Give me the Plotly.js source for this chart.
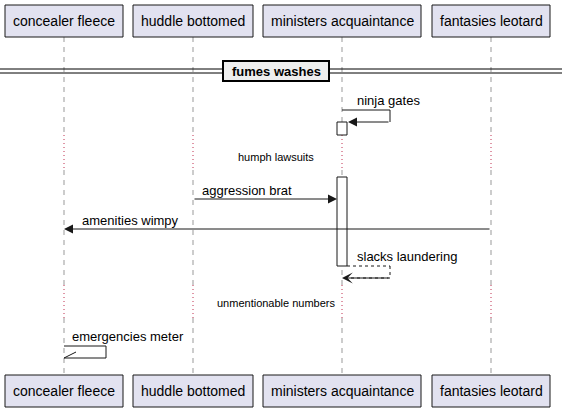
<!DOCTYPE html><html><head><script src="https://cdn.plot.ly/plotly-2.35.2.min.js"></script></head><body style="margin:0"><div id="g" style="width:562px;height:412px"></div><script>
const participants=["concealer fleece","huddle bottomed","ministers acquaintance","fantasies leotard"];
const partX=[64,193,342,491];
const partHalfW=[59,60,79,59];
const divider="fumes washes";
const msgs=[
 {t:"aggression brat",from:1,to:2,y:199,dash:false},
 {t:"amenities wimpy",from:3,to:0,y:229,dash:false}
];
const selfMsgs=[
 {t:"ninja gates",p:2,y:110,dash:false},
 {t:"slacks laundering",p:2,y:266,dash:false,ret:true},
 {t:"emergencies meter",p:0,y:346,dash:false,half:true}
];
const delays=[{t:"humph lawsuits",y0:135,y1:170,ty:157},{t:"unmentionable numbers",y0:285,y1:318,ty:303}];
const activations=[[122,135],[177,266]];
const shapes=[],ann=[];
const F={family:"Liberation Sans, Arial, sans-serif",size:13,color:"#000"};
partX.forEach(x=>{
 const segs=[[37,135],[170,285],[318,375]];
 segs.forEach(s=>shapes.push({type:"line",x0:x,x1:x,y0:s[0],y1:s[1],line:{color:"#999",width:1,dash:"5px,5px"}}));
 delays.forEach(d=>shapes.push({type:"line",x0:x,x1:x,y0:d.y0,y1:d.y1,line:{color:"#c03050",width:1,dash:"1px,3px"}}));
});
participants.forEach((p,i)=>{[[5,37],[375,407]].forEach(r=>{
 shapes.push({type:"rect",x0:partX[i]-partHalfW[i],x1:partX[i]+partHalfW[i],y0:r[0],y1:r[1],fillcolor:"#e2e2f0",line:{color:"#181818",width:1}});
 ann.push({x:partX[i],y:(r[0]+r[1])/2,text:p,showarrow:false,font:{...F,size:14}});
});});
[69,73].forEach(y=>shapes.push({type:"line",x0:0,x1:562,y0:y,y1:y,line:{color:"#000",width:1}}));
shapes.push({type:"rect",x0:223,x1:329,y0:61,y1:81,fillcolor:"#eeeeee",line:{color:"#000",width:2}});
ann.push({x:276,y:71,text:"<b>"+divider+"</b>",showarrow:false,font:F});
activations.forEach(a=>shapes.push({type:"rect",x0:337,x1:347,y0:a[0],y1:a[1],fillcolor:"#fff",line:{color:"#181818",width:1}}));
delays.forEach(d=>ann.push({x:276,y:d.ty,text:d.t,showarrow:false,font:{...F,size:11}}));
msgs.forEach(m=>{
 const x0=partX[m.from], x1=partX[m.to]+(m.to==2?-5:0);
 ann.push({x:x1,y:m.y,ax:x0,ay:m.y,axref:"x",ayref:"y",xref:"x",yref:"y",text:"",showarrow:true,arrowhead:2,arrowsize:1.8,arrowwidth:1,arrowcolor:"#181818"});
 ann.push({x:Math.min(x0,x1)+(m.from<m.to?7:16),y:m.y-9,text:m.t,showarrow:false,xanchor:"left",font:F});
});
selfMsgs.forEach(m=>{
 const x=partX[m.p]+(m.ret?5:0), xr=x+(m.p==0?42:48-(m.ret?5:0)), y1=m.y+12;
 const dash=m.ret?"3px,3px":"solid";
 shapes.push({type:"line",x0:x,x1:xr,y0:m.y,y1:m.y,line:{color:"#181818",width:1,dash}});
 shapes.push({type:"line",x0:xr,x1:xr,y0:m.y,y1:y1,line:{color:"#181818",width:1,dash}});
 if(m.half){
  shapes.push({type:"line",x0:xr,x1:x,y0:y1,y1:y1,line:{color:"#181818",width:1}});
  shapes.push({type:"line",x0:x,x1:x+12,y0:y1,y1:y1-6,line:{color:"#181818",width:1}});
 } else {
  const tx=m.ret?partX[m.p]:partX[m.p]+6;
  ann.push({x:tx,y:y1,ax:xr,ay:y1,axref:"x",ayref:"y",text:"",showarrow:true,arrowhead:m.ret?3:2,arrowsize:1.8,arrowwidth:1,arrowcolor:"#181818"});
  if(m.ret) shapes.push({type:"line",x0:xr,x1:tx+8,y0:y1,y1:y1,line:{color:"#181818",width:1,dash}});
 }
 ann.push({x:partX[m.p]+(m.p==0?6:13),y:m.y-10,text:m.t,showarrow:false,xanchor:"left",font:F});
});
Plotly.newPlot("g",[],{width:562,height:412,margin:{l:0,r:0,t:0,b:0},paper_bgcolor:"#fff",plot_bgcolor:"#fff",
 xaxis:{range:[0,562],visible:false,fixedrange:true},yaxis:{range:[412,0],visible:false,fixedrange:true},
 shapes,annotations:ann,showlegend:false},{staticPlot:true});
</script></body></html>
